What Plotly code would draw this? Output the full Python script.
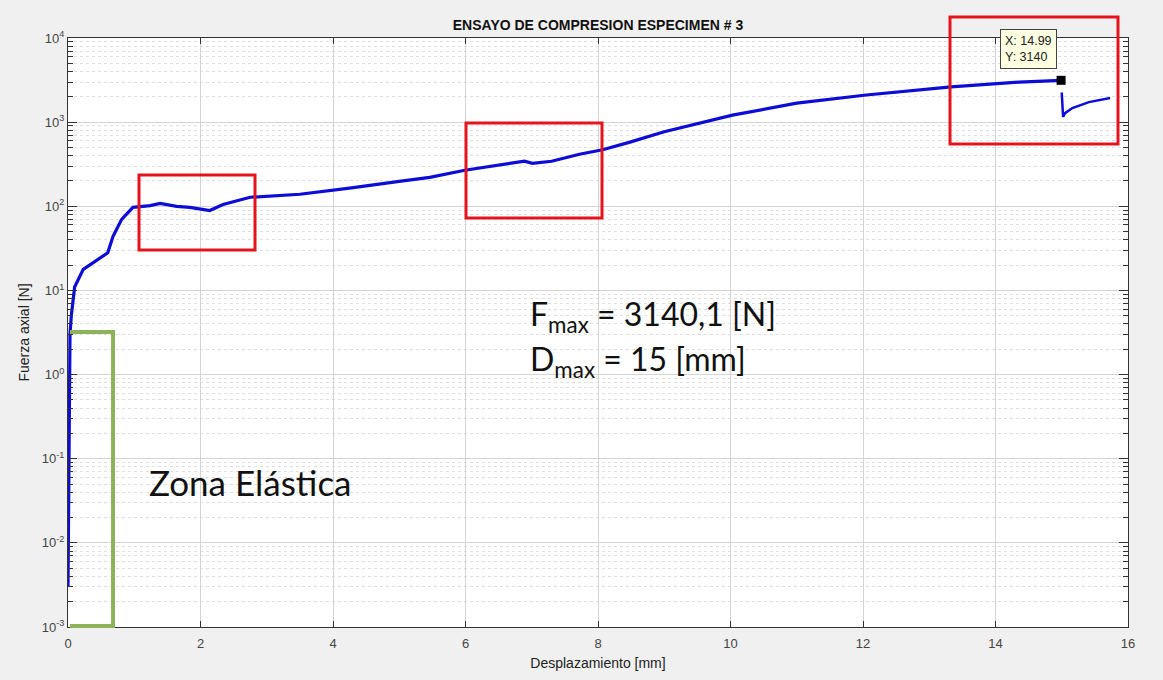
import plotly.graph_objects as go
import math

# ---- data ----
disp = [0.0, 0.002, 0.004, 0.006, 0.008, 0.01, 0.012, 0.014, 0.016, 0.018, 0.02, 0.025,
        0.03, 0.05, 0.1, 0.23, 0.38, 0.6, 0.68, 0.81, 0.98, 1.24, 1.39, 1.64, 1.84,
        2.14, 2.34, 2.75, 3.5, 4.25, 5.0, 5.46, 5.99, 6.47, 6.89, 7.01, 7.3, 7.72,
        8.07, 8.47, 8.63, 9.0, 10.03, 11.0, 12.05, 13.33, 14.36, 14.99]
force = [0.003, 0.006, 0.02, 0.03, 0.05, 0.07, 0.1, 0.2, 0.4, 0.7, 1.2, 2.0,
         3.0, 5.0, 11.0, 17.8, 21.5, 28.0, 44.0, 70.0, 97.0, 102.0, 108.0, 100.0, 97.0,
         89.0, 105.0, 128.0, 139.0, 164.0, 198.0, 221.0, 268.0, 307.0, 343.0, 324.0, 343.0, 415.0,
         470.0, 575.0, 630.0, 770.0, 1210.0, 1680.0, 2100.0, 2630.0, 2990.0, 3140.0]

disp_post = [15.0, 15.01, 15.02, 15.05, 15.16, 15.41, 15.6, 15.73]
force_post = [2250.0, 1700.0, 1150.0, 1280.0, 1470.0, 1730.0, 1860.0, 1940.0]

peak_disp = 14.99
peak_force = 3140

title = "ENSAYO DE COMPRESION ESPECIMEN # 3"
x_title = "Desplazamiento [mm]"
y_title = "Fuerza axial [N]"
x_ticks = [0, 2, 4, 6, 8, 10, 12, 14, 16]
y_ticks = [1e-3, 1e-2, 1e-1, 1e0, 1e1, 1e2, 1e3, 1e4]
y_ticktext = ["10<sup>-3</sup>", "10<sup>-2</sup>", "10<sup>-1</sup>", "10<sup>0</sup>",
              "10<sup>1</sup>", "10<sup>2</sup>", "10<sup>3</sup>", "10<sup>4</sup>"]

W, H = 1163, 680
L, R, T, B = 68, 35, 38, 53
pw, ph = W - L - R, H - T - B


def px(xp):
    return (xp - L) / pw


def py(yp):
    return (H - B - yp) / ph


blue = "#0c0cd6"
fig = go.Figure()
fig.add_trace(go.Scatter(x=disp, y=force, mode="lines",
                         line=dict(color=blue, width=3.2), showlegend=False))
fig.add_trace(go.Scatter(x=disp_post, y=force_post, mode="lines",
                         line=dict(color=blue, width=2.5), showlegend=False))
fig.add_trace(go.Scatter(x=[peak_disp], y=[peak_force], mode="markers",
                         marker=dict(symbol="square", size=9, color="black"),
                         showlegend=False))

grid_major = "#d4d4d4"
grid_minor = "#dedede"
axis_col = "#333333"
tick_font = dict(family="Liberation Sans, Arial", size=13, color="#444444")
lab_font = dict(family="Liberation Sans, Arial", size=14, color="#222222")

fig.update_xaxes(range=[0, 16], tickvals=x_ticks, ticks="inside", ticklen=6,
                 tickcolor=axis_col, showline=True, linecolor=axis_col, linewidth=1,
                 mirror="ticks", showgrid=True, gridcolor=grid_major, gridwidth=1,
                 zeroline=False, tickfont=tick_font, ticklabelstandoff=4,
                 title=dict(text=x_title, font=lab_font, standoff=8))
fig.update_yaxes(type="log", range=[-3, 4], tickvals=y_ticks, ticktext=y_ticktext,
                 ticks="inside", ticklen=9, tickcolor=axis_col, showline=True,
                 linecolor=axis_col, linewidth=1, mirror="ticks", showgrid=True,
                 gridcolor=grid_major, gridwidth=1, zeroline=False, tickfont=tick_font,
                 minor=dict(dtick="D1", ticks="inside", ticklen=5, tickcolor=axis_col,
                            showgrid=True, gridcolor=grid_minor, griddash="dot"),
                 title=dict(text=y_title, font=lab_font, standoff=8))

shapes = []
red = "#e5141c"
for (x0, x1, y0, y1) in [(139, 255, 250, 175), (466, 602, 218, 123), (950, 1118, 144, 17)]:
    shapes.append(dict(type="rect", xref="paper", yref="paper",
                       x0=px(x0), x1=px(x1), y0=py(y0), y1=py(y1),
                       line=dict(color=red, width=3), fillcolor="rgba(0,0,0,0)", layer="above"))
green = "#8db35a"
shapes.append(dict(type="path", xref="paper", yref="paper",
                   path="M {:.4f},{:.4f} L {:.4f},{:.4f} L {:.4f},{:.4f} L {:.4f},{:.4f}".format(
                       px(70), py(332), px(113), py(332), px(113), py(626), px(70), py(626)),
                   line=dict(color=green, width=4), layer="above"))

annotations = [
    dict(x=peak_disp, y=math.log10(peak_force), xref="x", yref="y",
         text="X: 14.99<br>Y: 3140", showarrow=True, arrowcolor="rgba(0,0,0,0)",
         ax=-33, ay=-31, align="left", bgcolor="#ffffe1", bordercolor="#444444",
         borderwidth=1, borderpad=4,
         font=dict(family="Liberation Sans, Arial", size=12.5, color="#222222")),
    dict(x=px(147), y=py(482), xref="paper", yref="paper", xanchor="left", yanchor="middle",
         text="Zona Elástica", showarrow=False,
         font=dict(family="Lato", size=35, color="#111111")),
    dict(x=px(528), y=py(316), xref="paper", yref="paper", xanchor="left", yanchor="middle",
         text="F<sub>max</sub> = 3140,1 [N]", showarrow=False,
         font=dict(family="Lato", size=32, color="#111111")),
    dict(x=px(528), y=py(361), xref="paper", yref="paper", xanchor="left", yanchor="middle",
         text="D<sub>max</sub> = 15 [mm]", showarrow=False,
         font=dict(family="Lato", size=32, color="#111111")),
]

fig.update_layout(
    width=W, height=H,
    margin=dict(l=L, r=R, t=T, b=B),
    paper_bgcolor="#f0f0f0", plot_bgcolor="white",
    title=dict(text="<b>" + title + "</b>", x=(L + pw / 2) / W, xanchor="center",
               y=1 - 25 / H, yanchor="middle",
               font=dict(family="Liberation Sans, Arial", size=14, color="#111111")),
    shapes=shapes, annotations=annotations,
)

fig.write_html("out.html")
